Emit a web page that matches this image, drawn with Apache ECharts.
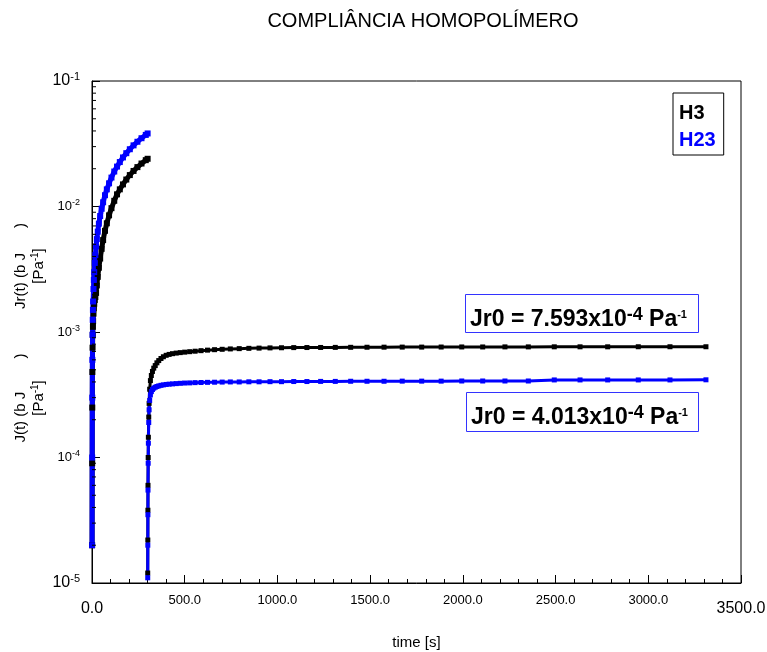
<!DOCTYPE html>
<html>
<head>
<meta charset="utf-8">
<script src="https://cdn.jsdelivr.net/npm/echarts@6/dist/echarts.min.js"></script>
<style>html,body{margin:0;padding:0;background:#fff}#c{width:767px;height:652px}</style>
</head>
<body>
<div id="c"></div>
<script>
// ---- data ----
const creepTime = [0.5, 1, 1.5, 2, 3, 4, 5, 6, 8, 10, 12, 15, 18, 22, 26, 31, 37, 44, 52, 60, 70, 80, 92, 105, 120, 135, 150, 167, 185, 204, 224, 245, 267, 290, 300];
const h3Creep = [2e-5, 9e-5, 2.5e-4, 4.8e-4, 7.5e-4, 9.5e-4, 1.1e-3, 1.22e-3, 1.4e-3, 1.55e-3, 1.68e-3, 1.8e-3, 1.9e-3, 2.05e-3, 2.35e-3, 2.75e-3, 3.25e-3, 3.85e-3, 4.6e-3, 5.4e-3, 6.4e-3, 7.35e-3, 8.5e-3, 9.7e-3, 1.11e-2, 1.25e-2, 1.37e-2, 1.5e-2, 1.64e-2, 1.78e-2, 1.92e-2, 2.06e-2, 2.2e-2, 2.34e-2, 2.4e-2];
const h23Creep = [2e-5, 1e-4, 3e-4, 6e-4, 9.5e-4, 1.25e-3, 1.5e-3, 1.75e-3, 2.2e-3, 2.6e-3, 3e-3, 3.55e-3, 4.1e-3, 4.8e-3, 5.5e-3, 6.3e-3, 7.3e-3, 8.4e-3, 9.6e-3, 1.08e-2, 1.23e-2, 1.37e-2, 1.53e-2, 1.7e-2, 1.9e-2, 2.08e-2, 2.26e-2, 2.46e-2, 2.66e-2, 2.86e-2, 3.07e-2, 3.28e-2, 3.5e-2, 3.72e-2, 3.82e-2];
const recTime = [300.5, 301, 301.5, 302, 303, 304, 306, 308, 311, 315, 320, 326, 333, 341, 350, 360, 372, 385, 400, 416, 434, 454, 476, 500, 527, 556, 588, 623, 661, 702, 746, 794, 846, 901, 960, 1022, 1088, 1159, 1233, 1312, 1395, 1483, 1575, 1673, 1778, 1883, 1994, 2107, 2227, 2353, 2493, 2632, 2781, 2946, 3117, 3311];
const h3Rec = [1.2e-5, 2.2e-5, 3.8e-5, 6e-5, 1e-4, 1.45e-4, 2.1e-4, 2.7e-4, 3.5e-4, 4.1e-4, 4.5e-4, 4.85e-4, 5.15e-4, 5.4e-4, 5.68e-4, 5.92e-4, 6.15e-4, 6.35e-4, 6.52e-4, 6.63e-4, 6.72e-4, 6.79e-4, 6.85e-4, 6.91e-4, 6.97e-4, 7.03e-4, 7.1e-4, 7.17e-4, 7.23e-4, 7.28e-4, 7.33e-4, 7.37e-4, 7.41e-4, 7.44e-4, 7.47e-4, 7.49e-4, 7.51e-4, 7.52e-4, 7.53e-4, 7.54e-4, 7.55e-4, 7.56e-4, 7.57e-4, 7.58e-4, 7.58e-4, 7.59e-4, 7.6e-4, 7.6e-4, 7.61e-4, 7.61e-4, 7.62e-4, 7.62e-4, 7.62e-4, 7.63e-4, 7.63e-4, 7.63e-4];
const h23Rec = [1.1e-5, 2e-5, 3.5e-5, 5.5e-5, 9e-5, 1.3e-4, 1.9e-4, 2.4e-4, 2.85e-4, 3.15e-4, 3.35e-4, 3.48e-4, 3.57e-4, 3.63e-4, 3.68e-4, 3.72e-4, 3.76e-4, 3.79e-4, 3.82e-4, 3.84e-4, 3.86e-4, 3.88e-4, 3.9e-4, 3.92e-4, 3.93e-4, 3.95e-4, 3.96e-4, 3.97e-4, 3.98e-4, 3.99e-4, 4.0e-4, 4.0e-4, 4.01e-4, 4.01e-4, 4.02e-4, 4.02e-4, 4.03e-4, 4.03e-4, 4.04e-4, 4.04e-4, 4.05e-4, 4.05e-4, 4.05e-4, 4.06e-4, 4.06e-4, 4.06e-4, 4.07e-4, 4.07e-4, 4.07e-4, 4.07e-4, 4.15e-4, 4.15e-4, 4.15e-4, 4.15e-4, 4.15e-4, 4.16e-4];
const yMinorTicks = [2e-5, 3e-5, 4e-5, 5e-5, 6e-5, 7e-5, 8e-5, 9e-5, 2e-4, 3e-4, 4e-4, 5e-4, 6e-4, 7e-4, 8e-4, 9e-4, 2e-3, 3e-3, 4e-3, 5e-3, 6e-3, 7e-3, 8e-3, 9e-3, 2e-2, 3e-2, 4e-2, 5e-2, 6e-2, 7e-2, 8e-2, 9e-2];
const seriesNames = ['H3', 'H23'];
const titleText = 'COMPLIÂNCIA HOMOPOLÍMERO';
const xName = 'time [s]';
const annot1 = ['Jr0 = 7.593x10', '-4', ' Pa', '-1'];
const annot2 = ['Jr0 = 4.013x10', '-4', ' Pa', '-1'];

// ---- chart ----
const FONT = 'Liberation Sans, Arial, sans-serif';
const BLACK = '#000000', BLUE = '#0000ff';
const zip = (a, b) => a.map((t, i) => [t, b[i]]);

function lineSeries(name, color, data, lw, ss) {
  return {
    name, type: 'line', data, color,
    symbol: 'rect', symbolSize: ss, showSymbol: true, showAllSymbol: true,
    lineStyle: { color, width: lw }, itemStyle: { color },
    animation: false, silent: true, z: 3
  };
}

const chart = echarts.init(document.getElementById('c'), null, { renderer: 'canvas' });
chart.setOption({
  backgroundColor: '#fff',
  animation: false,
  textStyle: { fontFamily: FONT },
  title: {
    text: titleText, left: 418, top: 6, textAlign: 'center',
    textStyle: { fontSize: 20, fontWeight: 'normal', color: '#000', fontFamily: FONT }
  },
  legend: {
    data: [
      { name: seriesNames[0], textStyle: { color: BLACK } },
      { name: seriesNames[1], textStyle: { color: BLUE } }
    ],
    orient: 'vertical', left: 673, top: 93,
    itemWidth: 0, itemHeight: 0, itemGap: 3,
    padding: [8, 8, 3, 0],
    borderColor: '#000', borderWidth: 1,
    selectedMode: false,
    textStyle: { fontSize: 20, fontWeight: 'bold', fontFamily: FONT, lineHeight: 24 }
  },
  grid: {
    left: 92, top: 81, right: 26, bottom: 69,
    containLabel: false, outerBoundsMode: 'none',
    show: true, borderColor: '#000', borderWidth: 1, backgroundColor: 'transparent'
  },
  xAxis: {
    type: 'value', min: 0, max: 3500, interval: 500,
    name: xName, nameLocation: 'middle', nameGap: 52,
    nameTextStyle: { fontSize: 15, color: '#000', fontFamily: FONT },
    axisLine: { show: true, lineStyle: { color: '#000', width: 1 } },
    axisTick: { show: true, inside: true, length: 8, lineStyle: { color: '#000' } },
    minorTick: { show: true, splitNumber: 5, length: 4, lineStyle: { color: '#000' } },
    splitLine: { show: false },
    axisLabel: {
      margin: 11, color: '#000',
      formatter: v => (v === 0 || v === 3500) ? '{B|' + v.toFixed(1) + '}' : '{m|' + v.toFixed(1) + '}',
      rich: {
        B: { fontSize: 16, fontFamily: FONT, color: '#000', padding: [7, 0, 0, 0] },
        m: { fontSize: 13, fontFamily: FONT, color: '#000' }
      }
    }
  },
  yAxis: {
    type: 'log', logBase: 10, min: 1e-5, max: 1e-1, interval: 1,
    axisLine: { show: true, lineStyle: { color: '#000', width: 1 } },
    axisTick: { show: true, inside: true, length: 8, lineStyle: { color: '#000' } },
    splitLine: { show: false },
    axisLabel: {
      margin: 12, color: '#000',
      formatter: v => {
        const e = Math.round(Math.log10(v));
        return (e === -1 || e === -5) ? '{B|10}{BS|' + e + '}' : '{m|10}{ms|' + e + '}';
      },
      rich: {
        B: { fontSize: 16, fontFamily: FONT, color: '#000' },
        BS: { fontSize: 11, fontFamily: FONT, color: '#000', padding: [0, 0, 9, 0] },
        m: { fontSize: 13, fontFamily: FONT, color: '#000' },
        ms: { fontSize: 9, fontFamily: FONT, color: '#000', padding: [0, 0, 7, 0] }
      }
    }
  },
  series: [
    lineSeries(seriesNames[0], BLACK, zip(creepTime, h3Creep), 5, 6),
    lineSeries(seriesNames[0], BLACK, zip(recTime, h3Rec), 3, 5),
    lineSeries(seriesNames[1], BLUE, zip(creepTime, h23Creep), 5, 6),
    lineSeries(seriesNames[1], BLUE, zip(recTime, h23Rec), 3, 5),
    {
      name: 'minorTicks', type: 'custom', silent: true, animation: false, z: 4,
      data: yMinorTicks.map(v => [0, v]),
      renderItem: (params, api) => {
        const p = api.coord([api.value(0), api.value(1)]);
        return { type: 'line', shape: { x1: p[0], y1: p[1], x2: p[0] + 4, y2: p[1] }, style: { stroke: '#000', lineWidth: 1 } };
      }
    }
  ],
  graphic: [
    {
      type: 'text', x: 30, y: 266, rotation: Math.PI / 2,
      style: {
        text: '{n|Jr(t) (b J      )}\n{n|[Pa}{s|-1}{n|]}',
        align: 'center', verticalAlign: 'middle',
        rich: { n: { fontSize: 15, fontFamily: FONT, fill: '#000', lineHeight: 18 }, s: { fontSize: 10, fontFamily: FONT, fill: '#000', padding: [0, 0, 7, 0], lineHeight: 18 } }
      }
    },
    {
      type: 'text', x: 30, y: 398, rotation: Math.PI / 2,
      style: {
        text: '{n|J(t) (b J        )}\n{n|[Pa}{s|-1}{n|]}',
        align: 'center', verticalAlign: 'middle',
        rich: { n: { fontSize: 15, fontFamily: FONT, fill: '#000', lineHeight: 18 }, s: { fontSize: 10, fontFamily: FONT, fill: '#000', padding: [0, 0, 7, 0], lineHeight: 18 } }
      }
    },
    { type: 'rect', shape: { x: 465.5, y: 294.5, width: 233, height: 38 }, style: { fill: '#fff', stroke: '#3333ff', lineWidth: 1 }, z: 10 },
    {
      type: 'text', x: 470, y: 320, z: 11,
      style: {
        text: '{b|' + annot1[0] + '}{e|' + annot1[1] + '}{b|' + annot1[2] + '}{t|' + annot1[3] + '}',
        align: 'left', verticalAlign: 'middle',
        rich: {
          b: { fontSize: 23, fontWeight: 'bold', fontFamily: FONT, fill: '#000' },
          e: { fontSize: 18, fontWeight: 'bold', fontFamily: FONT, fill: '#000', padding: [0, 0, 10, 0] },
          t: { fontSize: 11, fontWeight: 'bold', fontFamily: FONT, fill: '#000', padding: [0, 0, 10, 0] }
        }
      }
    },
    { type: 'rect', shape: { x: 466.5, y: 392.5, width: 232, height: 39 }, style: { fill: '#fff', stroke: '#3333ff', lineWidth: 1 }, z: 10 },
    {
      type: 'text', x: 471, y: 418, z: 11,
      style: {
        text: '{b|' + annot2[0] + '}{e|' + annot2[1] + '}{b|' + annot2[2] + '}{t|' + annot2[3] + '}',
        align: 'left', verticalAlign: 'middle',
        rich: {
          b: { fontSize: 23, fontWeight: 'bold', fontFamily: FONT, fill: '#000' },
          e: { fontSize: 18, fontWeight: 'bold', fontFamily: FONT, fill: '#000', padding: [0, 0, 10, 0] },
          t: { fontSize: 11, fontWeight: 'bold', fontFamily: FONT, fill: '#000', padding: [0, 0, 10, 0] }
        }
      }
    }
  ]
});
</script>
</body>
</html>
